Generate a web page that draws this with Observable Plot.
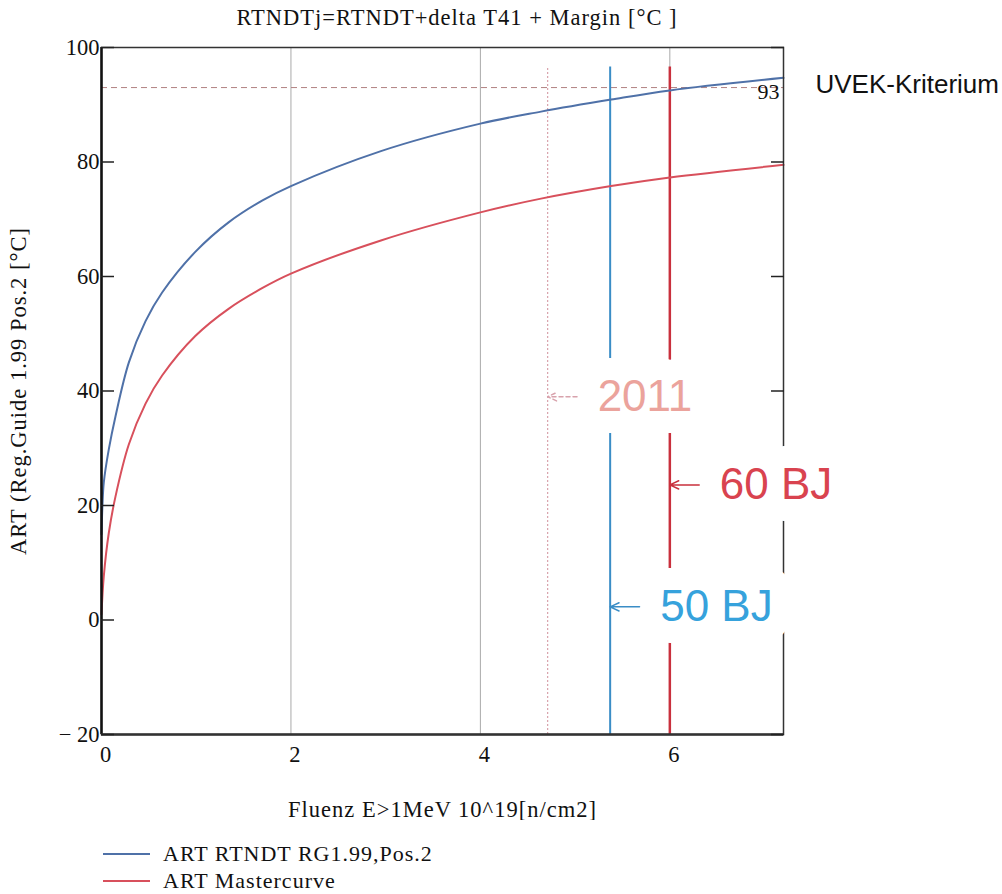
<!DOCTYPE html>
<html><head><meta charset="utf-8">
<script src="https://cdn.jsdelivr.net/npm/d3@7"></script>
<script src="https://cdn.jsdelivr.net/npm/@observablehq/plot@0.6"></script>
<style>
body{margin:0;background:#fff;font-family:"Liberation Serif","Times New Roman",serif;color:#111;}
#title{width:914px;height:30px;text-align:center;font-size:22.5px;letter-spacing:1px;line-height:36px;white-space:nowrap;}
#legend{padding-top:20px;}
.row{display:flex;align-items:center;height:27px;font-size:22px;letter-spacing:1px;}
.row svg{margin-left:103px;margin-right:13px;}
svg [aria-label="x-axis label"] text, svg [aria-label="y-axis label"] text{letter-spacing:1px;}
</style></head><body>
<div id="title"></div>
<div id="chart"></div>
<div id="legend"></div>
<script>
// ---- data ----
const titleText = "RTNDTj=RTNDT+delta T41 + Margin [°C ]";
const xLabel = "Fluenz E>1MeV 10^19[n/cm2]";
const yLabel = "ART (Reg.Guide 1.99 Pos.2 [°C]";
const seriesNames = ["ART RTNDT RG1.99,Pos.2", "ART Mastercurve"];
const seriesColors = ["#4f71a8", "#d8505c"];

const fluenceRG = [0, 0.01, 0.024, 0.077, 0.148, 0.289, 0.465, 0.64, 0.99, 1.345, 1.70, 2.0, 2.95, 4.0, 4.64, 5.38, 6.0, 7.2];
const artRG     = [15, 20, 24, 29.8, 35.6, 45, 52.2, 57.2, 64.3, 69.5, 73.3, 75.8, 81.9, 86.7, 88.8, 90.9, 92.5, 94.7];
const fluenceMC = [0, 0.024, 0.077, 0.148, 0.289, 0.465, 0.64, 0.99, 1.345, 1.70, 2.0, 2.95, 4.0, 4.64, 5.38, 6.0, 7.2];
const artMC     = [1, 7.6, 15.2, 21.6, 30.7, 37.8, 42.7, 49.6, 54.4, 58.0, 60.5, 66.3, 71.2, 73.6, 75.8, 77.3, 79.5];

const xDomain = [0, 7.2];
const yDomain = [-20, 100];
const xTicks = [0, 2, 4, 6];
const xGrid = [2, 4, 6];
const yTicks = [-20, 0, 20, 40, 60, 80, 100];
const criterion = 93;
const criterionLabel = "UVEK-Kriterium";

const markerNames   = ["2011", "50 BJ", "60 BJ"];
const markerFluence = [4.71, 5.37, 6.0];
const markerLabelY  = [39, 2.3, 23.6];
const markerTop     = 96.6;
const markerLineColors = ["#d8a2ac", "#3a8dc6", "#c9303d"];
const markerTextColors = ["#eba39c", "#36a2dc", "#d9434f"];
const markerWidths  = [1.2, 2, 2.5];
const markerDash    = ["2,2", null, null];
const arrowLen = 0.31;

// ---- build ----
const rg = fluenceRG.map((f, i) => ({f, v: artRG[i]}));
const mc = fluenceMC.map((f, i) => ({f, v: artMC[i]}));
const markers = markerNames.map((name, i) => ({
  name, x: markerFluence[i], ly: markerLabelY[i],
  lc: markerLineColors[i], tc: markerTextColors[i], w: markerWidths[i], dash: markerDash[i]
}));
const sans = "Liberation Sans, Arial, sans-serif";
const serif = "Liberation Serif, Times New Roman, serif";

document.getElementById("title").textContent = titleText;

const chart = Plot.plot({
  width: 1002, height: 790,
  marginLeft: 101, marginRight: 219, marginTop: 17, marginBottom: 86,
  style: {fontFamily: serif, fontSize: "22px", color: "#111", background: "#fff"},
  x: {domain: xDomain, axis: null},
  y: {domain: yDomain, axis: null},
  marks: [
    Plot.gridX(xGrid, {stroke: "#a9a9a9", strokeOpacity: 1, strokeWidth: 1}),
    Plot.ruleY([criterion], {stroke: "#b08080", strokeDasharray: "6,4", strokeWidth: 1}),
    ...markers.map(m => Plot.ruleX([m], {x: "x", y1: () => yDomain[0], y2: () => markerTop, stroke: m.lc, strokeWidth: m.w, strokeDasharray: m.dash})),
    Plot.line(rg, {x: "f", y: "v", stroke: seriesColors[0], strokeWidth: 2, curve: "catmull-rom"}),
    Plot.line(mc, {x: "f", y: "v", stroke: seriesColors[1], strokeWidth: 2, curve: "catmull-rom"}),
    Plot.frame({stroke: "#333", strokeWidth: 1.5}),
    Plot.ruleX([xDomain[0]], {stroke: "#111", strokeWidth: 2.5}),
    Plot.ruleY([yDomain[0]], {stroke: "#333", strokeWidth: 2.5}),
    Plot.axisY(yTicks, {anchor: "left", tickSize: 13, dx: 13, tickFormat: () => "", label: null, stroke: "#222", strokeWidth: 1.5}),
    Plot.axisY(yTicks, {anchor: "right", tickSize: 13, dx: -13, tickFormat: () => "", label: null, stroke: "#222", strokeWidth: 1.5}),
    Plot.axisY(yTicks, {anchor: "left", tickSize: 0, tickPadding: 2, fontSize: 22.5,
      tickFormat: d => d < 0 ? "\u2212 " + Math.abs(d) : String(d),
      label: yLabel, labelAnchor: "center", labelOffset: 91, labelArrow: "none"}),
    Plot.axisX(xTicks, {anchor: "bottom", tickSize: 0, tickPadding: 12, dx: 4, fontSize: 22.5,
      label: xLabel, labelAnchor: "center", labelOffset: 82, labelArrow: "none"}),
    Plot.text([criterion], {x: () => xDomain[1], y: d => d, text: d => String(d), textAnchor: "end", dx: -4, dy: 4, fontSize: 22, fill: "#111"}),
    Plot.text([criterionLabel], {x: () => xDomain[1], y: () => criterion, text: d => d, textAnchor: "start", dx: 32, dy: -3, fontSize: 26, fontFamily: sans, fill: "#111"}),
    Plot.text(markers, {x: "x", y: "ly", text: "name", textAnchor: "start", dx: 50, fontSize: 44, fontFamily: sans, fill: d => d.tc, stroke: "white", strokeWidth: 44, strokeLinejoin: "round"}),
    ...markers.map(m => Plot.arrow([m], {x1: d => d.x + arrowLen, x2: "x", y1: "ly", y2: "ly", stroke: m.lc, strokeWidth: 1.5, headLength: 14, headAngle: 50, strokeDasharray: m.dash ? "4,3" : null}))
  ]
});
document.getElementById("chart").appendChild(chart);

const legend = document.getElementById("legend");
seriesNames.forEach((name, i) => {
  const row = document.createElement("div");
  row.className = "row";
  row.innerHTML = `<svg width="47" height="4"><line x1="0" x2="47" y1="2" y2="2" stroke="${seriesColors[i]}" stroke-width="2"/></svg><span></span>`;
  row.querySelector("span").textContent = name;
  legend.appendChild(row);
});
</script>
</body></html>
